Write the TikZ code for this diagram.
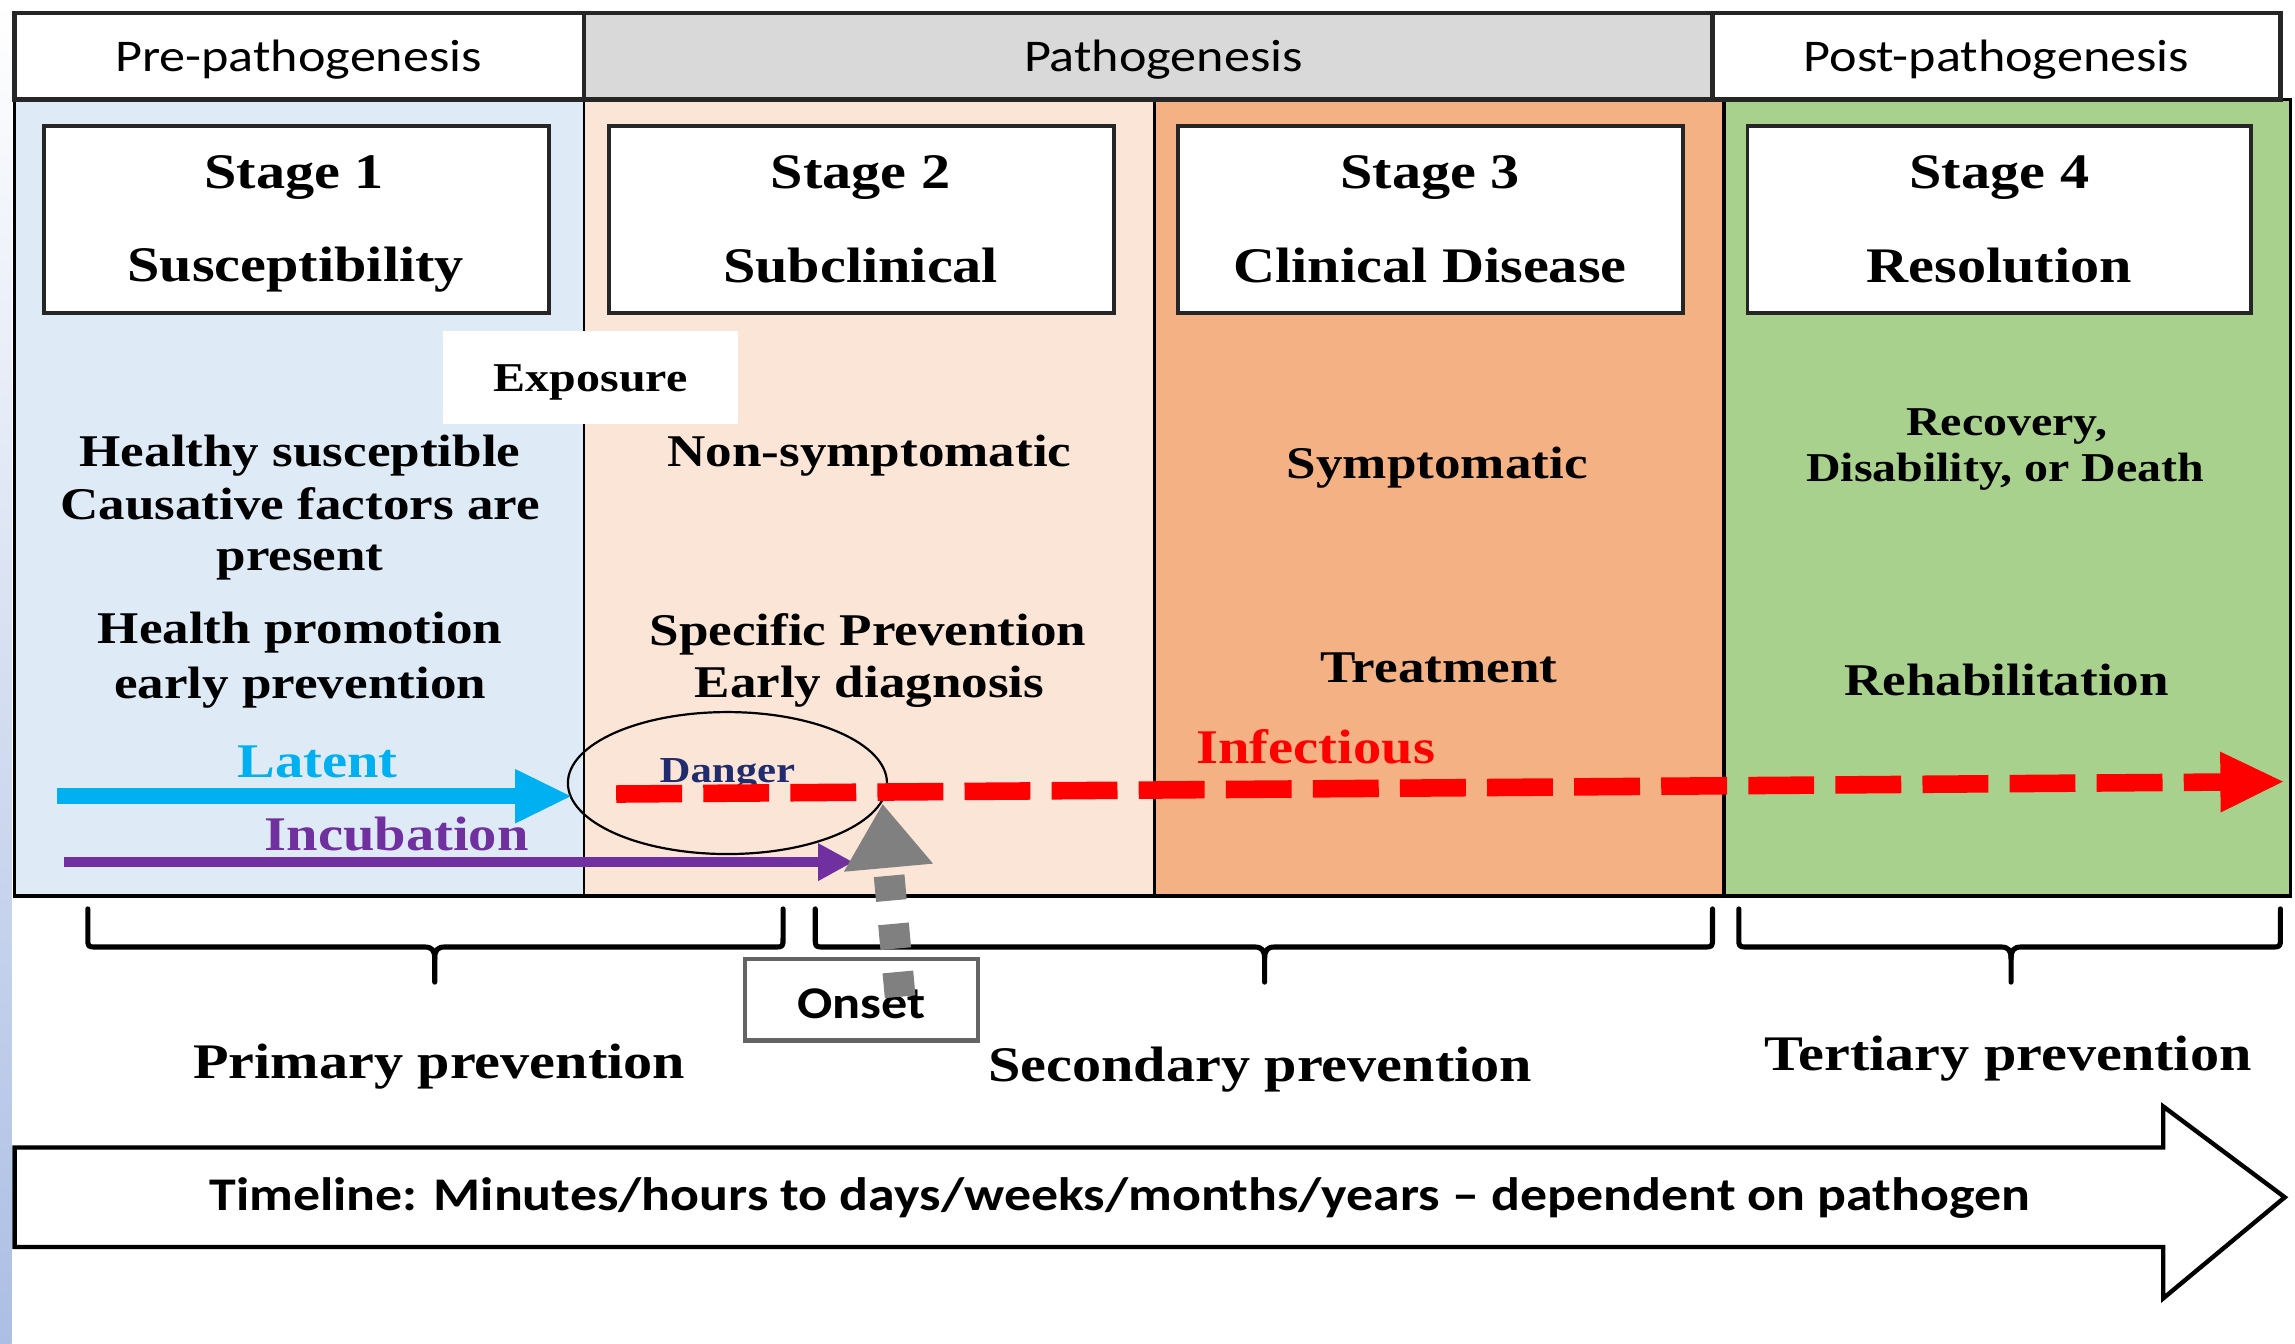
\documentclass[tikz,border=0pt]{standalone}
\usepackage{fontspec}
\setmainfont{Liberation Serif}[FakeStretch=1.17]
\newfontfamily\hdrfont{Carlito}[FakeStretch=1.15]
\usetikzlibrary{arrows.meta,shapes.geometric,shadings}
\definecolor{cBlue}{RGB}{222,234,246}
\definecolor{cPeach}{RGB}{251,229,214}
\definecolor{cOrange}{RGB}{244,177,131}
\definecolor{cGreen}{RGB}{169,209,142}
\definecolor{cGray}{RGB}{217,217,217}
\definecolor{cDark}{RGB}{38,38,38}
\definecolor{cCyan}{RGB}{0,176,240}
\definecolor{cPurple}{RGB}{112,48,160}
\definecolor{cRed}{RGB}{255,0,0}
\definecolor{cNavy}{RGB}{32,44,110}
\definecolor{cArrowGray}{RGB}{128,128,128}
\definecolor{cOnsetBorder}{RGB}{100,100,100}
\definecolor{cStrip}{RGB}{172,190,228}
\newcommand\fsz[1]{\fontsize{#1}{#1}\selectfont}
\newcommand\mybrace[3]{%
  \draw[bracestyle] (#1,621) -- (#1,641) .. controls (#1,647) and (#1,647) .. (#1+6,647)
    -- (#2-7,647) .. controls (#2-2,647) and (#2,649) .. (#2,655) -- (#2,671);
  \draw[bracestyle] (#2,655) .. controls (#2,649) and (#2+2,647) .. (#2+7,647)
    -- (#3-6,647) .. controls (#3,647) and (#3,647) .. (#3,641) -- (#3,621);}
\begin{document}
\begin{tikzpicture}[x=1pt,y=-1pt,
  txt/.style={inner sep=0pt, outer sep=0pt, anchor=center, yshift=-3.5pt},
  stg/.style={txt, font=\fsz{34}\bfseries},
  body/.style={txt, font=\fsz{31}\bfseries},
  small/.style={txt, font=\fsz{28}\bfseries},
  hdr/.style={txt, font=\hdrfont\fsz{31}, yshift=1.5pt},
  prev/.style={txt, font=\fsz{34}\bfseries},
  colorlbl/.style={txt, font=\fsz{33}\bfseries},
  stagebox/.style={draw=cDark, line width=2.5pt, fill=white},
  hdrbox/.style={draw=cDark, line width=3pt},
  bracestyle/.style={line width=3.5pt, line cap=round, line join=round},
]
\useasboundingbox (0,0) rectangle (1568,918);
\fill[white] (0,0) rectangle (1568,918);
\shade[top color=white, bottom color=cStrip] (0,0) rectangle (8,918);

% main panel
\fill[cBlue] (10,68) rectangle (399,612);
\fill[cPeach] (399,68) rectangle (789,612);
\fill[cOrange] (789,68) rectangle (1178,612);
\fill[cGreen] (1178,68) rectangle (1565,612);
\draw[line width=2.5pt] (10,68) rectangle (1565,612);
\draw[line width=2pt] (399,68) -- (399,612);
\draw[line width=2pt] (789,68) -- (789,612);
\draw[line width=2.5pt] (1178,68) -- (1178,612);

% header row
\draw[hdrbox, fill=white] (10,9) rectangle (399,68);
\draw[hdrbox, fill=cGray] (399,9) rectangle (1170,68);
\draw[hdrbox, fill=white] (1170,9) rectangle (1558,68);
\node[hdr] (hpre) at (204,39) {Pre-pathogenesis};
\node[hdr] (hpath) at (795,39) {Pathogenesis};
\node[hdr] (hpost) at (1364,39) {Post-pathogenesis};

% stage boxes
\draw[stagebox] (30,86) rectangle (375,214);
\draw[stagebox] (416,86) rectangle (761,214);
\draw[stagebox] (805,86) rectangle (1150,214);
\draw[stagebox] (1194,86) rectangle (1538,214);
\node[stg] (s1a) at (201,118) {Stage 1};
\node[stg] (s1b) at (202,181) {Susceptibility};
\node[stg] (s2a) at (588,118) {Stage 2};
\node[stg] (s2b) at (588,178) {Subclinical};
\node[stg] (s3a) at (977,118) {Stage 3};
\node[stg] (s3b) at (977,178) {Clinical Disease};
\node[stg] (s4a) at (1366,118) {Stage 4};
\node[stg] (s4b) at (1366,178) {Resolution};

% exposure
\node[fill=white, inner sep=0pt, minimum width=201pt, minimum height=64pt, text depth=0pt,
  font=\fsz{28}\bfseries] (exposure) at (403.5,258) {Exposure};

% column texts
\node[body] (t1a) at (205,308) {Healthy susceptible};
\node[body] (t1b) at (205,341) {Causative factors are};
\node[body] (t1c) at (205,381) {present};
\node[body] (t1d) at (205,429) {Health promotion};
\node[body] (t1e) at (205,466) {early prevention};
\node[body] (t2a) at (594,308) {Non-symptomatic};
\node[body] (t2b) at (593,430) {Specific Prevention};
\node[body] (t2c) at (594,466) {Early diagnosis};
\node[body] (t3a) at (982,316) {Symptomatic};
\node[body] (t3b) at (983,453) {Treatment};
\node[small] (t4a) at (1371,288) {Recovery,};
\node[small] (t4b) at (1370,319) {Disability, or Death};
\node[body] (t4c) at (1371,461) {Rehabilitation};

% labels
\node[colorlbl, text=cCyan] (latent) at (217,517) {Latent};
\node[colorlbl, text=cPurple] (incub) at (271,566) {Incubation};
\node[colorlbl, text=cRed] (infect) at (899,507) {Infectious};
\node[txt, font=\fsz{25}\bfseries, text=cNavy] (danger) at (497,526) {Danger};
\node[draw, ellipse, line width=1.5pt, minimum width=218pt, minimum height=97pt,
  inner sep=0pt] (dangerell) at (497,535) {};

% arrows
\coordinate (latS) at (39,544);
\coordinate (latE) at (391,544);
\coordinate (incS) at (44,589);
\coordinate (incE) at (583,589);
\coordinate (infS) at (421,542.5);
\coordinate (infE) at (1561,534);
\draw[cCyan, line width=11pt, -{Triangle[length=39pt,width=34pt]}] (latS) -- (latE);
\draw[cPurple, line width=7pt, -{Triangle[length=24pt,width=24pt]}] (incS) -- (incE);
\draw[cRed, line width=12pt, dash pattern=on 45pt off 14.5pt,
  -{Triangle[length=44pt,width=38pt]}] (infS) -- (infE);

% braces
\mybrace{60}{297}{535}
\mybrace{557}{864}{1170}
\mybrace{1188}{1374}{1558}

% onset
\node[draw=cOnsetBorder, line width=3pt, fill=white, minimum width=159pt,
  minimum height=56pt, inner sep=0pt, text height=26pt,
  font=\hdrfont\bfseries\fsz{31}] (onset) at (588.5,683) {Onset};
\coordinate (onS) at (615,681);
\coordinate (onE) at (603,549);
\draw[cArrowGray, line width=21pt, dash pattern=on 17pt off 16pt,
  -{Triangle[length=44pt,width=58pt]}] (onS) -- (onE);

% prevention labels
\node[prev] (prim) at (300,725) {Primary prevention};
\node[prev] (sec) at (861,727) {Secondary prevention};
\node[prev] (ter) at (1372,720) {Tertiary prevention};

% timeline arrow
\draw[line width=3pt, fill=white] (10,784) -- (1478,784) -- (1478,756) -- (1561,818)
  -- (1478,887) -- (1478,852) -- (10,852) -- cycle;
\node[txt, font=\hdrfont\bfseries\fsz{32}] (timeline) at (765,815)
  {Timeline: Minutes/hours to days/weeks/months/years – dependent on pathogen};
\end{tikzpicture}
\end{document}
